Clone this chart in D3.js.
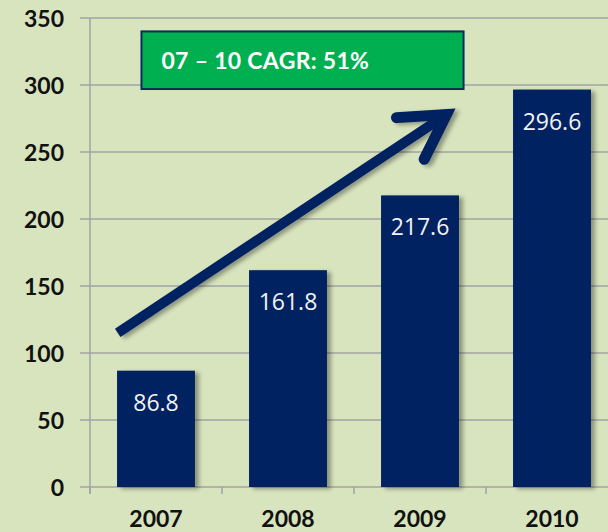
<!DOCTYPE html>
<html>
<head>
<meta charset="utf-8">
<script src="https://cdn.jsdelivr.net/npm/d3@7"></script>
<style>
  body { margin: 0; background: #d7e4bd; }
  svg { display: block; }
</style>
</head>
<body>
<svg id="chart" width="608" height="532"></svg>
<script>
// data
const years = ["2007", "2008", "2009", "2010"];
const values = [86.8, 161.8, 217.6, 296.6];
const yTicks = [0, 50, 100, 150, 200, 250, 300, 350];
const cagrText = "07 \u2013 10 CAGR: 51%";

const svg = d3.select("svg#chart");
const width = +svg.attr("width");
const height = +svg.attr("height");

const bg = "#d7e4bd";
const barColor = "#002060";
const gridColor = "#a3a3a3";
const boxColor = "#00b050";

svg.append("rect").attr("width", width).attr("height", height).attr("fill", bg);

// chart runs past the right edge, like the original crop
const x = d3.scaleBand().domain(years).range([90, 618]).paddingInner(0.41).paddingOuter(0.205);
const y = d3.scaleLinear().domain([0, 350]).range([487, 18]);

const defs = svg.append("defs");
const shadow = defs.append("filter").attr("id", "shadow")
  .attr("x", "-10%").attr("y", "-10%").attr("width", "130%").attr("height", "130%");
shadow.append("feDropShadow")
  .attr("dx", 4).attr("dy", 2).attr("stdDeviation", 2)
  .attr("flood-color", "#000").attr("flood-opacity", 0.35);

// gridlines
const grid = svg.append("g").attr("class", "grid");
grid.selectAll("line")
  .data(yTicks)
  .join("line")
  .attr("x1", 80).attr("x2", width)
  .attr("y1", d => y(d)).attr("y2", d => y(d))
  .attr("stroke", gridColor).attr("stroke-width", 1.5);

// y axis line
svg.append("line")
  .attr("x1", 90).attr("x2", 90)
  .attr("y1", y(350)).attr("y2", y(0) + 7)
  .attr("stroke", gridColor).attr("stroke-width", 1.5);

// x category ticks at band boundaries
const step = x.step();
svg.append("g").selectAll("line")
  .data(years)
  .join("line")
  .attr("x1", d => x(d) - x.paddingOuter() * step)
  .attr("x2", d => x(d) - x.paddingOuter() * step)
  .attr("y1", y(0)).attr("y2", y(0) + 7)
  .attr("stroke", gridColor).attr("stroke-width", 1.5);

// y tick labels
svg.append("g").selectAll("text")
  .data(yTicks)
  .join("text")
  .attr("x", 64)
  .attr("y", d => y(d))
  .attr("text-anchor", "end")
  .attr("dominant-baseline", "central")
  .style("font-family", "Lato, 'Open Sans', sans-serif")
  .style("font-weight", "bold")
  .style("font-size", "23px")
  .attr("fill", "#111")
  .text(d => d);

// year labels
svg.append("g").selectAll("text")
  .data(years)
  .join("text")
  .attr("x", d => x(d) + x.bandwidth() / 2)
  .attr("y", 527)
  .attr("text-anchor", "middle")
  .style("font-family", "Lato, 'Open Sans', sans-serif")
  .style("font-weight", "bold")
  .style("font-size", "23px")
  .attr("fill", "#111")
  .text(d => d);

// bars
svg.append("g").selectAll("rect")
  .data(values)
  .join("rect")
  .attr("x", (d, i) => x(years[i]))
  .attr("y", d => y(d))
  .attr("width", x.bandwidth())
  .attr("height", d => y(0) - y(d))
  .attr("fill", barColor)
  .attr("filter", "url(#shadow)");

// value labels inside bars
svg.append("g").selectAll("text")
  .data(values)
  .join("text")
  .attr("x", (d, i) => x(years[i]) + x.bandwidth() / 2)
  .attr("y", d => y(d) + 31)
  .attr("text-anchor", "middle")
  .attr("dominant-baseline", "central")
  .style("font-family", "'Open Sans', 'Noto Sans', sans-serif")
  .style("font-size", "23px")
  .attr("fill", "#f2f2f2")
  .text(d => d.toFixed(1));

// growth arrow, placed in data space
const arrowFrom = { year: "2007", frac: 0.21, v: 115 };
const arrowTo = { year: "2009", frac: 0.7, v: 278 };
const px = p => x(p.year) - x.paddingOuter() * step + p.frac * step;
const x0 = px(arrowFrom), y0 = y(arrowFrom.v);
const x1 = px(arrowTo), y1 = y(arrowTo.v);
const ang = Math.atan2(y1 - y0, x1 - x0);
const headLen = 50;
const spread = (30 * Math.PI) / 180;
const w1 = [x1 - headLen * Math.cos(ang - spread), y1 - headLen * Math.sin(ang - spread)];
const w2 = [x1 - headLen * Math.cos(ang + spread), y1 - headLen * Math.sin(ang + spread)];

const arrow = svg.append("g").attr("filter", "url(#shadow)");
arrow.append("path")
  .attr("d", `M${x0},${y0}L${x1 - 6 * Math.cos(ang)},${y1 - 6 * Math.sin(ang)}`)
  .attr("stroke", barColor).attr("stroke-width", 10)
  .attr("stroke-linecap", "butt").attr("fill", "none");
arrow.append("path")
  .attr("d", `M${w1[0]},${w1[1]}L${x1},${y1}L${w2[0]},${w2[1]}`)
  .attr("stroke", barColor).attr("stroke-width", 11)
  .attr("stroke-linecap", "round").attr("stroke-linejoin", "miter")
  .attr("stroke-miterlimit", 10).attr("fill", "none");

// CAGR box
const boxLeft = x("2007") - x.paddingOuter() * step + 0.39 * step;
const boxRight = x("2009") - x.paddingOuter() * step + 0.83 * step;
const boxTop = y(340);
const boxBottom = y(297);
svg.append("rect")
  .attr("x", boxLeft).attr("y", boxTop)
  .attr("width", boxRight - boxLeft).attr("height", boxBottom - boxTop)
  .attr("fill", boxColor)
  .attr("stroke", "#0d2a5c").attr("stroke-width", 2);
svg.append("text")
  .attr("x", boxLeft + 20)
  .attr("y", (boxTop + boxBottom) / 2)
  .attr("dominant-baseline", "central")
  .style("font-family", "Lato, 'Open Sans', sans-serif")
  .style("font-weight", "bold")
  .style("font-size", "23px")
  .style("letter-spacing", "0.3px")
  .attr("fill", "#ffffff")
  .text(cagrText);
</script>
</body>
</html>
